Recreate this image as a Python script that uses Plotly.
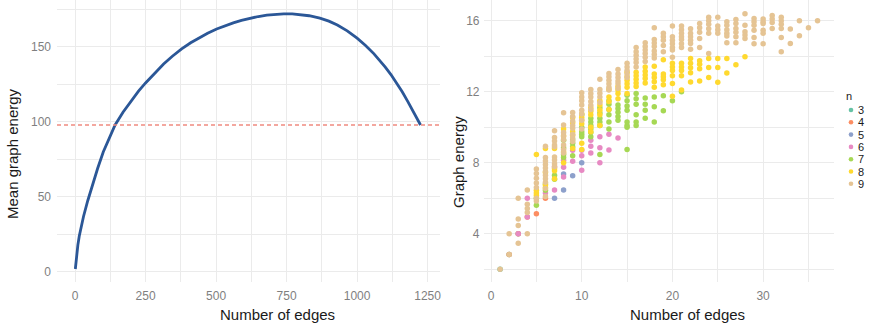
import plotly.graph_objects as go

W, H = 873, 328
FONT = "Liberation Sans, Arial, sans-serif"

# ---------------- Left panel data: mean energy vs number of edges ----------------
mean_edges = [1, 5, 10, 15, 20, 30, 45, 60, 80, 100, 121, 142, 170, 196, 225, 250, 280, 314,
              345, 378, 410, 440, 470, 502, 530, 561, 590, 620, 650, 680, 710, 740, 770, 800,
              830, 868, 900, 930, 965, 1000, 1030, 1060, 1080, 1100, 1120, 1140, 1160, 1180,
              1200, 1225]
mean_energy = [2.0, 10.0, 18.0, 24.0, 29.0, 37.0, 47.5, 57.5, 69.0, 80.0, 89.5, 98.0, 106.5,
               113.5, 120.5, 126.0, 132.2, 138.6, 143.8, 148.7, 152.8, 156.2, 159.1, 162.0,
               164.0, 166.05, 167.7, 169.1, 170.3, 171.2, 171.7, 172.0, 172.0, 171.6, 170.8,
               169.2, 167.2, 164.6, 160.7, 155.9, 151.0, 145.4, 141.2, 136.6, 131.6, 126.1,
               120.1, 113.6, 106.7, 98.0]
complete_graph_energy = 98.0

# ---------------- Right panel data: graph energy by n (edges -> energies) ----------------
n_values = [3, 4, 5, 6, 7, 8, 9]
colors = ["#66C2A5", "#FC8D62", "#8DA0CB", "#E78AC3", "#A6D854", "#FFD92F", "#E5C494"]

energy_n3 = {1: [2.0], 2: [2.83], 3: [4.0]}
energy_n4 = {2: [2.83], 3: [4.0], 4: [4.94], 5: [5.12], 6: [6.0]}
energy_n5 = {7: [6.0], 8: [6.46, 7.36], 9: [7.27], 10: [8.0]}
energy_n6 = {3: [4.0], 4: [6.0, 4.94], 6: [6.3], 7: [7.78, 6.46], 8: [8.14, 7.2, 7.75],
             9: [8.7, 8.09], 10: [8.7, 8.4, 7.58], 11: [9.27, 8.93, 8.55],
             12: [9.46, 8.85, 8.0], 13: [9.6, 8.72], 14: [9.4]}
energy_n7 = {5: [6.0, 5.6], 6: [6.8, 6.45], 7: [7.07, 7.3], 8: [9.27, 8.85, 8.46, 8.3],
             9: [9.3, 9.1, 8.9, 8.4], 10: [10.7, 10.0, 9.75, 9.6, 9.46],
             11: [10.5, 10.3, 10.1, 9.9, 9.7, 9.46], 12: [11.1, 10.8, 10.5, 10.3, 10.1, 8.46],
             13: [11.5, 11.3, 11.0, 10.7, 10.3, 9.9], 14: [11.25, 11.05, 10.85, 10.6, 10.4],
             15: [11.8, 11.5, 11.2, 10.96, 10.3, 10.1, 10.0, 8.75],
             16: [11.9, 11.6, 11.3, 10.7, 10.3, 10.1], 17: [11.65, 11.3, 10.96, 10.5],
             18: [11.7, 11.16, 10.3], 19: [11.77, 10.93], 20: [11.5], 21: [12.0]}
energy_n8 = {5: [8.47, 6.45, 6.3, 6.15], 6: [8.8, 7.45, 6.75, 6.6], 7: [8.8, 7.67, 7.55, 7.1],
             8: [9.9, 9.5, 8.6, 8.0], 9: [10.55, 10.25, 9.75, 9.55, 8.8],
             10: [10.75, 10.55, 10.4, 10.2, 9.1, 8.75], 11: [11.1, 10.9, 10.7, 10.0, 9.75],
             12: [11.5, 11.25, 10.96, 10.7, 10.1], 13: [12.13, 11.7, 11.45, 11.0],
             14: [12.3, 12.1, 11.9, 11.6], 15: [13.1, 12.85, 12.65, 12.45, 12.25, 11.9],
             16: [13.1, 12.9, 12.7, 12.5, 12.3], 17: [13.4, 13.15, 12.95, 12.75, 12.5],
             18: [13.44, 13.0, 12.8, 12.56, 12.25], 19: [13.8, 13.0, 12.85, 12.68, 12.4],
             20: [13.6, 13.4, 13.2, 12.9, 12.47, 11.75], 21: [13.6, 13.4, 13.2, 12.9, 12.1],
             22: [13.87, 13.6, 13.35, 13.07, 12.55], 23: [13.75, 13.55, 13.3, 12.6],
             24: [13.88, 13.37, 12.8], 25: [13.88, 13.37, 12.53], 26: [13.88, 13.05],
             27: [13.52], 28: [13.97]}
energy_n9 = {1: [2.0], 2: [4.0, 2.83], 3: [6.0, 4.83, 4.47, 3.46], 4: [6.47, 5.66, 5.42, 5.19, 4.0],
             5: [7.65, 7.4, 7.12, 6.86, 6.6, 6.0, 5.85],
             6: [8.93, 8.3, 8.1, 7.9, 7.7, 7.5, 7.3, 7.1, 6.9, 6.55, 6.1],
             7: [9.8, 9.42, 9.23, 9.0, 8.9, 8.33, 8.15, 7.95, 7.77],
             8: [10.82, 10.13, 9.7, 9.5, 9.3, 9.0, 8.75, 8.55],
             9: [10.83, 10.6, 10.35, 10.1, 9.95, 9.6, 9.4, 9.2],
             10: [11.94, 11.7, 11.5, 11.25, 10.96, 10.75, 10.4, 9.9],
             11: [12.13, 11.9, 11.7, 11.45, 11.24, 11.0], 12: [12.7, 12.13, 11.92, 11.7, 11.4],
             13: [13.03, 12.85, 12.65, 12.45, 12.25, 12.1], 14: [13.25, 13.0, 12.8, 12.6, 12.45, 12.2],
             15: [13.6, 13.4, 13.2, 13.0, 12.8],
             16: [14.5, 14.25, 14.05, 13.85, 13.65, 13.4], 17: [14.76, 14.55, 14.35, 14.15, 13.95, 13.7],
             18: [15.6, 14.95, 14.75, 14.55, 14.3, 14.1, 13.9], 19: [15.3, 15.1, 14.9, 14.6, 14.25],
             20: [15.7, 15.1, 14.9, 14.7, 14.5, 14.35, 13.95],
             21: [15.7, 15.5, 15.3, 15.1, 14.95, 14.7, 14.5], 22: [15.55, 15.3, 15.1, 14.9, 14.72, 14.4],
             23: [15.85, 15.6, 15.35, 15.0, 14.5], 24: [16.2, 16.0, 15.8, 15.55, 15.3, 14.16],
             25: [16.2, 15.7, 15.5, 15.3], 26: [15.95, 15.75, 15.5, 15.3, 15.14, 14.76],
             27: [16.07, 15.85, 15.56, 15.35, 15.1, 14.76], 28: [16.4, 15.75, 15.38, 15.2, 15.0],
             29: [16.13, 15.95, 15.75, 15.47, 15.05, 14.7], 30: [16.1, 15.95, 15.85, 15.47, 15.3, 14.7],
             31: [16.3, 16.1, 15.9, 15.57], 32: [16.2, 16.0, 15.8, 15.57, 15.05, 14.25],
             33: [15.53, 14.72], 34: [16.0, 15.15], 35: [15.6], 36: [16.0]}
energy_by_n = [energy_n3, energy_n4, energy_n5, energy_n6, energy_n7, energy_n8, energy_n9]

# ---------------- Figure ----------------
fig = go.Figure()

fig.add_trace(go.Scatter(x=mean_edges, y=mean_energy, mode="lines",
                         line=dict(color="#2B5797", width=2.8),
                         showlegend=False, hoverinfo="skip", xaxis="x", yaxis="y"))

for n, col, data in zip(n_values, colors, energy_by_n):
    xs, ys = [], []
    for m, vals in data.items():
        for v in vals:
            xs.append(m)
            ys.append(v)
    fig.add_trace(go.Scatter(x=xs, y=ys, mode="markers", name=str(n),
                             marker=dict(color=col, size=5.5, line=dict(width=0)),
                             showlegend=False, xaxis="x2", yaxis="y2"))

fig.add_shape(type="line", xref="x domain", yref="y", x0=0, x1=1,
              y0=complete_graph_energy, y1=complete_graph_energy,
              line=dict(color="#F08A80", width=1.4, dash="4px,3px"), layer="above")

def px(v):
    return v / W

def py(v):
    return 1 - v / H

grid = "#EBEBEB"
tickfont = dict(family=FONT, size=12, color="#7F7F7F")
common = dict(showline=False, zeroline=False, ticks="", gridcolor=grid, gridwidth=1.1,
              tickfont=tickfont, fixedrange=True)

fig.update_layout(
    width=W, height=H, margin=dict(l=0, r=0, t=0, b=0),
    paper_bgcolor="white", plot_bgcolor="white",
    font=dict(family=FONT),
    xaxis=dict(domain=[px(57), px(440)], range=[-64, 1294], tick0=0, dtick=250,
               minor=dict(dtick=125, showgrid=True, gridcolor=grid, gridwidth=0.6),
               anchor="y", ticklabelstandoff=5, **common),
    yaxis=dict(domain=[py(282), 1], range=[-6.67, 181.3], tick0=0, dtick=50,
               minor=dict(dtick=25, showgrid=True, gridcolor=grid, gridwidth=0.6),
               anchor="x", ticklabelstandoff=5, **common),
    xaxis2=dict(domain=[px(483.5), px(833.5)], range=[-0.83, 37.76], tick0=0, dtick=10,
                minor=dict(dtick=5, showgrid=True, gridcolor=grid, gridwidth=0.6),
                anchor="y2", ticklabelstandoff=5, **common),
    yaxis2=dict(domain=[py(282), 1], range=[1.28, 17.17], tick0=0, dtick=4,
                minor=dict(dtick=2, showgrid=True, gridcolor=grid, gridwidth=0.6),
                anchor="x2", ticklabelstandoff=3, **common),
)

title_font = dict(family=FONT, size=15, color="#1A1A1A")
annotations = [
    dict(text="Number of edges", x=px(277), y=py(314), xref="paper", yref="paper",
         showarrow=False, font=title_font, xanchor="center", yanchor="middle"),
    dict(text="Number of edges", x=px(687), y=py(314), xref="paper", yref="paper",
         showarrow=False, font=title_font, xanchor="center", yanchor="middle"),
    dict(text="Mean graph energy", x=px(12.5), y=py(153.5), xref="paper", yref="paper",
         showarrow=False, font=title_font, textangle=-90, xanchor="center", yanchor="middle"),
    dict(text="Graph energy", x=px(458), y=py(162), xref="paper", yref="paper",
         showarrow=False, font=title_font, textangle=-90, xanchor="center", yanchor="middle"),
    dict(text="n", x=px(844), y=py(96), xref="paper", yref="paper", showarrow=False,
         font=dict(family=FONT, size=11, color="#1A1A1A"), xanchor="left", yanchor="middle"),
]
for i, (n, col) in enumerate(zip(n_values, colors)):
    yc = 110 + 12.3 * i
    annotations.append(dict(text=str(n), x=px(856), y=py(yc), xref="paper", yref="paper",
                            showarrow=False, font=dict(family=FONT, size=11, color="#1A1A1A"),
                            xanchor="left", yanchor="middle"))
    fig.add_shape(type="circle", xref="paper", yref="paper",
                  x0=px(851 - 2.3), x1=px(851 + 2.3), y0=py(yc + 2.3), y1=py(yc - 2.3),
                  fillcolor=col, line=dict(width=0))
fig.update_layout(annotations=annotations)

fig.write_html("out.html")
